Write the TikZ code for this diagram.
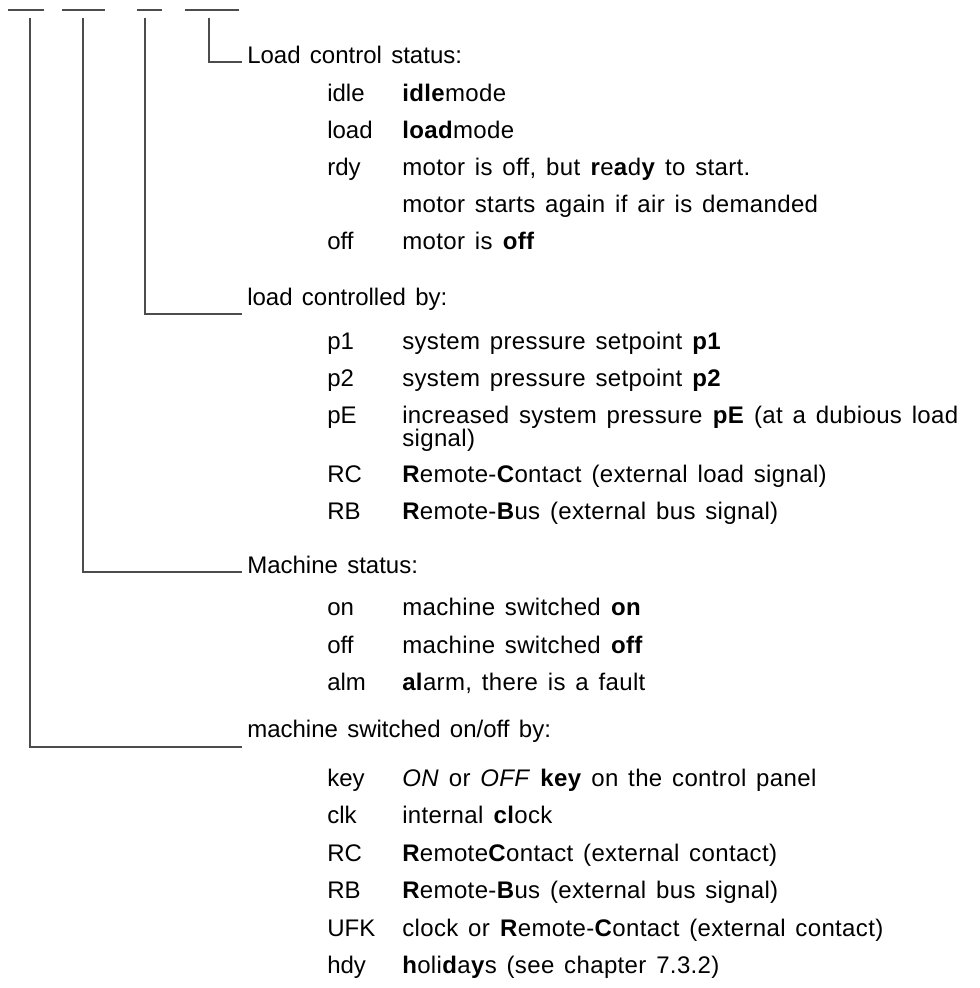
\documentclass[tikz,border=0pt]{standalone}
\usepackage{fontspec}
\setmainfont[WordSpace=1.4]{Liberation Sans}
\newfontfamily\descfont[WordSpace=1.4,LetterSpace=1.5]{Liberation Sans}
\begin{document}
\begin{tikzpicture}[
  x=0.75pt,
  y=-0.75pt,
  every node/.style = {
    inner sep=0pt,
    anchor=mid west,
    font=\fontsize{18}{22}\selectfont
  },
  wire/.style = {
    draw=black!70,
    line width=0.8pt
  },
  head/.style = {},
  code/.style = {},
  desc/.style = {font=\fontsize{18}{22}\descfont},
]
  \useasboundingbox (0,0) rectangle (979,988);

  % field marks on top
  \draw[wire] (8,10)   -- (44,10);
  \draw[wire] (62,10)  -- (105,10);
  \draw[wire] (137,10) -- (162,10);
  \draw[wire] (185,10) -- (239,10);
  \coordinate (switchmark)  at (30,18);
  \coordinate (machinemark) at (83,18);
  \coordinate (ctrlmark)    at (145,18);
  \coordinate (statusmark)  at (209,18);

  % load control status
  \node (loadstatus)[head] at (247,60) {Load control status:};
  \coordinate (statusend) at (242,62);
  \node (idle)[code]      at (327,98)  {idle};
  \node (idledesc)[desc]  at (402,98)  {\textbf{idle}mode};
  \node (load)[code]      at (327,135) {load};
  \node (loaddesc)[desc]  at (402,135) {\textbf{load}mode};
  \node (rdy)[code]       at (327,172) {rdy};
  \node (rdydesc)[desc]   at (402,172) {motor is off, but \textbf{r}e\textbf{a}d\textbf{y} to start.};
  \node (rdymore)[desc]   at (402,209) {motor starts again if air is demanded};
  \node (moff)[code]      at (327,246) {off};
  \node (moffdesc)[desc]  at (402,246) {motor is \textbf{off}};

  % load controlled by
  \node (ctrlby)[head]    at (247,302) {load controlled by:};
  \coordinate (ctrlend) at (242,314);
  \node (pone)[code]      at (327,346) {p1};
  \node (ponedesc)[desc]  at (402,346) {system pressure setpoint \textbf{p1}};
  \node (ptwo)[code]      at (327,383) {p2};
  \node (ptwodesc)[desc]  at (402,383) {system pressure setpoint \textbf{p2}};
  \node (pe)[code]        at (327,420) {pE};
  \node (pedesc)[desc]    at (402,420) {increased system pressure \textbf{pE} (at a dubious load};
  \node (pemore)[desc]    at (402,443) {signal)};
  \node (rcload)[code]    at (327,479) {RC};
  \node (rcloaddesc)[desc] at (402,479) {\textbf{R}emote-\textbf{C}ontact (external load signal)};
  \node (rbload)[code]    at (327,516) {RB};
  \node (rbloaddesc)[desc] at (402,516) {\textbf{R}emote-\textbf{B}us (external bus signal)};

  % machine status
  \node (mstatus)[head]   at (247,570) {Machine status:};
  \coordinate (mstatusend) at (242,572);
  \node (on)[code]        at (327,612) {on};
  \node (ondesc)[desc]    at (402,612) {machine switched \textbf{on}};
  \node (off)[code]       at (327,650) {off};
  \node (offdesc)[desc]   at (402,650) {machine switched \textbf{off}};
  \node (alm)[code]       at (327,687) {alm};
  \node (almdesc)[desc]   at (402,687) {\textbf{al}arm, there is a fault};

  % machine switched on/off by
  \node (switchby)[head]  at (247,734) {machine switched on/off by:};
  \coordinate (switchend) at (242,747);
  \node (key)[code]       at (327,783) {key};
  \node (keydesc)[desc]   at (402,783) {\textit{ON} or \textit{OFF} \textbf{key} on the control panel};
  \node (clk)[code]       at (327,820) {clk};
  \node (clkdesc)[desc]   at (402,820) {internal \textbf{cl}ock};
  \node (rcsw)[code]      at (327,858) {RC};
  \node (rcswdesc)[desc]  at (402,858) {\textbf{R}emote\textbf{C}ontact (external contact)};
  \node (rbsw)[code]      at (327,895) {RB};
  \node (rbswdesc)[desc]  at (402,895) {\textbf{R}emote-\textbf{B}us (external bus signal)};
  \node (ufk)[code]       at (327,933) {UFK};
  \node (ufkdesc)[desc]   at (402,933) {clock or \textbf{R}emote-\textbf{C}ontact (external contact)};
  \node (hdy)[code]       at (327,970) {hdy};
  \node (hdydesc)[desc]   at (402,970) {\textbf{h}oli\textbf{d}a\textbf{y}s (see chapter 7.3.2)};

  % connectors from the marks
  \draw[wire] (statusmark)  |- (statusend);
  \draw[wire] (ctrlmark)    |- (ctrlend);
  \draw[wire] (machinemark) |- (mstatusend);
  \draw[wire] (switchmark)  |- (switchend);
\end{tikzpicture}
\end{document}
